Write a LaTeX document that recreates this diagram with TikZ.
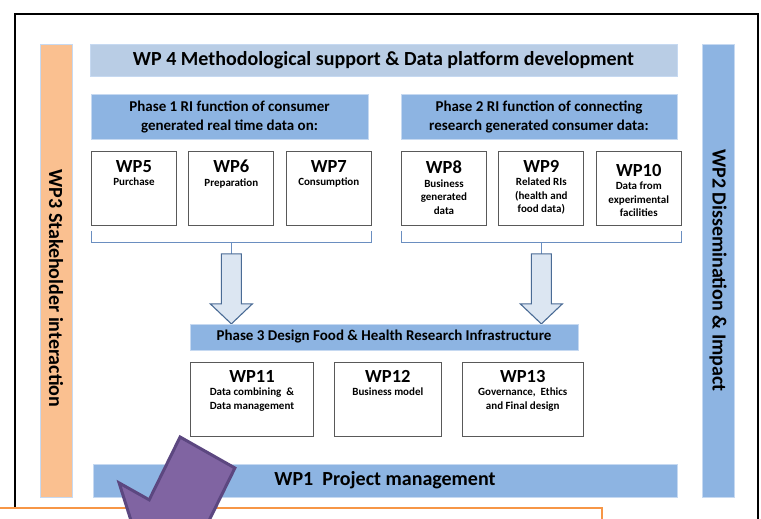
\documentclass[tikz,border=0pt]{standalone}
\usepackage{fontspec}
\setmainfont{Carlito}
\usetikzlibrary{positioning}
\definecolor{BarBlue}{HTML}{8DB4E2}
\definecolor{PaleBlue}{HTML}{B9CDE5}
\definecolor{Peach}{HTML}{FAC090}
\definecolor{EdgeBlue}{HTML}{C6D9F1}
\definecolor{LineBlue}{HTML}{6A8EC0}
\definecolor{ArrowFill}{HTML}{DCE6F2}
\definecolor{ArrowEdge}{HTML}{4A6B95}
\definecolor{Plum}{HTML}{8064A2}
\definecolor{PlumEdge}{HTML}{5C4780}
\definecolor{Tangerine}{HTML}{F79646}
\definecolor{BoxEdge}{HTML}{595959}
\newcommand{\wpname}[1]{{\fontsize{18.5}{13}\selectfont #1}}

\begin{document}
\begin{tikzpicture}[x=1pt,y=-1pt,node distance=11.5pt,
bigbar/.style={draw=EdgeBlue,fill=BarBlue,line width=.8pt,inner sep=0pt,font=\fontsize{20}{24}\selectfont\bfseries},
phase/.style={draw=EdgeBlue,fill=BarBlue,line width=.8pt,inner sep=0pt,align=center,font=\fontsize{15}{19}\selectfont\bfseries},
wpbox/.style={draw=BoxEdge,fill=white,line width=.9pt,minimum width=85pt,minimum height=74pt,inner sep=0pt},
wptext/.style={anchor=north,inner sep=0pt,align=center,font=\fontsize{11}{13.5}\selectfont\bfseries},
brace/.style={draw=LineBlue,line width=1pt},
blockarr/.style={draw=ArrowEdge,fill=ArrowFill,line width=1.1pt,line join=miter},
bigarrow/.style={draw=PlumEdge,fill=Plum,line width=3pt,line join=miter}]
\useasboundingbox (0,0) rectangle (761,519);
\clip (0,0) rectangle (761,519);
% frame and lower panel
\draw[line width=1.4pt] (15,14) rectangle (758,560);
\draw[draw=Tangerine,fill=white,line width=2.2pt] (-5,508) rectangle (602,560);
% side and top bars
\node[bigbar,fill=PaleBlue,minimum width=587pt,minimum height=32pt] (wp4) at (383.5,60) {WP 4 Methodological support \& Data platform development};
\node[bigbar,fill=Peach,rotate=-90,minimum width=453pt,minimum height=32pt] (wp3) at (56,270.5) {\hspace*{36pt}WP3 Stakeholder interaction};
\node[bigbar,rotate=-90,minimum width=453pt,minimum height=32pt] (wp2) at (718,270.5) {WP2 Dissemination \& Impact};
\node[bigbar,minimum width=584pt,minimum height=33pt] (wp1) at (385,480.5) {WP1\ \ Project management};
% phase 1 and 2
\node[phase,minimum width=277pt,minimum height=45pt] (ph1) at (229.5,116.5) {Phase 1 RI function of consumer\\generated real time data on:};
\node[phase,minimum width=276pt,minimum height=45pt] (ph2) at (539,116.5) {Phase 2 RI function of connecting\\research generated consumer data:};
\node[wpbox,anchor=north west] (wp5) at (91,151) {};
\node[wpbox,right=of wp5] (wp6) {};
\node[wpbox,right=of wp6] (wp7) {};
\node[wpbox,anchor=north west] (wp8) at (401,151) {};
\node[wpbox,right=of wp8] (wp9) {};
\node[wpbox,right=of wp9] (wp10) {};
\node[wptext] (wp5t) at ([yshift=-9pt]wp5.north) {\wpname{WP5}\\Purchase};
\node[wptext] (wp6t) at ([yshift=-9pt]wp6.north) {\wpname{WP6}\\Preparation};
\node[wptext] (wp7t) at ([yshift=-9pt]wp7.north) {\wpname{WP7}\\Consumption};
\node[wptext] (wp8t) at ([yshift=-10pt]wp8.north) {\wpname{WP8}\\Business\\generated\\data};
\node[wptext] (wp9t) at ([yshift=-9pt]wp9.north) {\wpname{WP9}\\Related RIs\\(health and\\food data)};
\node[wptext] (wp10t) at ([yshift=-13pt]wp10.north) {\wpname{WP10}\\Data from\\experimental\\facilities};
% brackets and arrows down
\draw[brace] ([yshift=-5pt]wp5.south west) -- ++(0,12) -| ([yshift=-5pt]wp7.south east);
\draw[brace] ([yshift=-5pt]wp8.south west) -- ++(0,12) -| ([yshift=-5pt]wp10.south east);
\coordinate (stem1) at ([yshift=-17pt]wp6.south);
\coordinate (stem2) at ([yshift=-17pt]wp9.south);
\coordinate (a1) at ([yshift=-28pt]wp6.south);
\coordinate (a2) at ([yshift=-28pt]wp9.south);
\draw[brace] (stem1) -- (a1);
\draw[brace] (stem2) -- (a2);
\draw[blockarr] (a1) ++(-10,0) -- ++(0,50) -- ++(-11,0) -- ++(21,20) -- ++(21,-20) -- ++(-11,0) -- ++(0,-50) -- cycle;
\draw[blockarr] (a2) ++(-10,0) -- ++(0,50) -- ++(-11,0) -- ++(21,20) -- ++(21,-20) -- ++(-11,0) -- ++(0,-50) -- cycle;
% phase 3
\node[phase,minimum width=388pt,minimum height=26pt] (ph3) at (384,337) {Phase 3 Design Food \& Health Research Infrastructure};
\node[wpbox,anchor=north west,minimum width=123pt] (wp11) at (190,362) {};
\node[wpbox,minimum width=107pt,right=20pt of wp11] (wp12) {};
\node[wpbox,minimum width=121pt,right=20pt of wp12] (wp13) {};
\node[wptext] (wp11t) at ([yshift=-8pt]wp11.north) {\wpname{WP11}\\Data combining \ \&\\Data management};
\node[wptext] (wp12t) at ([yshift=-8pt]wp12.north) {\wpname{WP12}\\Business model};
\node[wptext] (wp13t) at ([yshift=-8pt]wp13.north) {\wpname{WP13}\\Governance, \ Ethics\\and Final design};
% purple arrow
\draw[bigarrow] (180.1,437) -- (234.9,468) -- (204,530.8) -- (234.1,547.7) -- (147.8,573.6) -- (119.1,482.9) -- (149.2,499.8) -- cycle;
\end{tikzpicture}
\end{document}
